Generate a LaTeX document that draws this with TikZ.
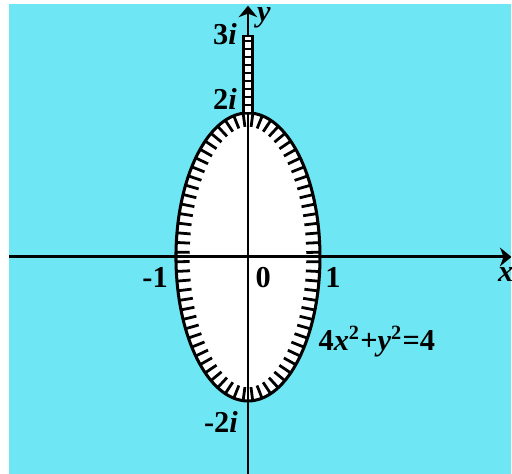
\documentclass[tikz,border=0pt]{standalone}
\usepackage{fontspec}
\setmainfont{Liberation Serif}
\usetikzlibrary{arrows.meta,decorations.markings}
\definecolor{sky}{HTML}{6FE6F3}
\tikzset{
  axisline/.style={-{Stealth[length=1.6mm,width=2.6mm,inset=0.5mm]}, line width=#1, draw=black},
  axisline/.default=1pt,
  lbl/.style={font=\bfseries\fontsize{12}{13}\selectfont, inner sep=0pt},
  tickmark/.style={line width=1.1pt, line cap=butt},
  hatched/.style={line width=1.2pt, postaction={decorate}, decoration={markings,
      mark=between positions 0.006944 and 0.999 step 0.013889 with {\draw[tickmark] (0,0) -- (0,0.19);}}},
}

\begin{document}
\begin{tikzpicture}
  \useasboundingbox (-3.444,-3.014) rectangle (3.667,3.569);
  \fill[sky] (-3.319,-3.014) rectangle (3.653,3.514);
  % region inside the ellipse
  \fill[white] (0,0) ellipse [x radius=1, y radius=2];
  \coordinate (xl) at (-3.319,0);
  \coordinate (xr) at (3.66,0);
  \coordinate (yb) at (0,-3.014);
  \coordinate (yt) at (0,3.49);
  \draw[axisline=1.2pt] (xl) -- (xr);
  \draw[axisline=0.8pt] (yb) -- (yt);
  % boundary 4x^2+y^2=4 with inner hatching
  \draw[hatched] (0,2) arc[start angle=90, end angle=450, x radius=1, y radius=2];
  % ray from 2i up to 3i
  \fill[white] (-0.0625,2) rectangle (0.0625,3.07);
  \foreach \k in {0,...,8}
    \fill (-0.0625,2.1+\k*0.11) rectangle (0.0625,2.1+\k*0.11+0.03);
  \draw[line width=0.9pt] (-0.0625,2) rectangle (0.0625,3.07);
  \node[lbl] (ti3) at (-0.32,3.10) {3\textit{i}};
  \node[lbl] (ty) at (0.22,3.32) {\textit{y}};
  \node[lbl] (ti2) at (-0.32,2.19) {2\textit{i}};
  \node[lbl] (tm1) at (-1.29,-0.29) {-1};
  \node[lbl] (t0) at (0.21,-0.29) {0};
  \node[lbl] (t1) at (1.18,-0.29) {1};
  \node[lbl] (tx) at (3.58,-0.25) {\textit{x}};
  \node[lbl] (eq) at (1.79,-1.17) {4\textit{x}\textsuperscript{2}+\textit{y}\textsuperscript{2}=4};
  \node[lbl] (tm2) at (-0.375,-2.29) {-2\textit{i}};
\end{tikzpicture}
\end{document}
